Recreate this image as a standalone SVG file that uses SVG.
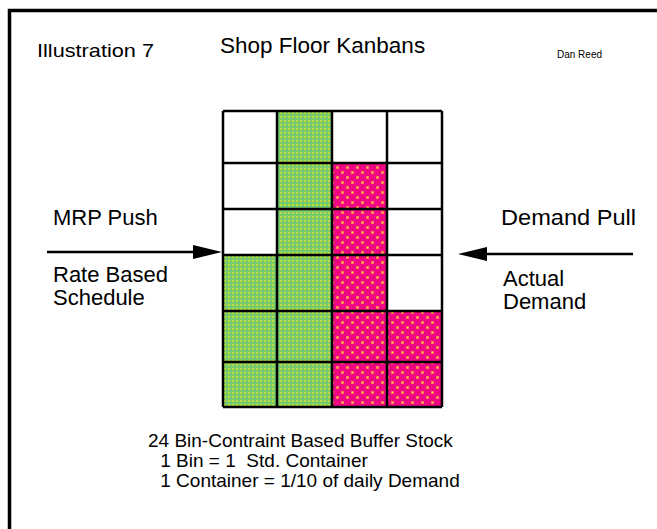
<svg xmlns="http://www.w3.org/2000/svg" width="657" height="529" viewBox="0 0 657 529">
<style>
text{font-family:"Liberation Sans",Arial,sans-serif;fill:#000}
.lbl{font-size:22px}
.note{font-size:19px}
.grid{stroke:#000;stroke-width:2.5;fill:none}
.conn{stroke:#000;stroke-width:2.5;fill:none}
.g{fill:url(#green)}
.p{fill:url(#pink)}
</style>
<defs>
<pattern id="green" patternUnits="userSpaceOnUse" width="4" height="4">
<rect width="4" height="4" fill="#7ccd62"/>
<rect x="0" y="0" width="2" height="2" fill="#bcd846"/>
<rect x="2" y="2" width="1" height="1" fill="#3cbcc4"/>
</pattern>
<pattern id="pink" patternUnits="userSpaceOnUse" width="10" height="10">
<rect width="10" height="10" fill="#ee0682"/>
<rect x="1" y="1" width="3" height="3" fill="#ff7a5a"/>
<rect x="2" y="2" width="1" height="1" fill="#ffd830"/>
<rect x="6" y="6" width="3" height="3" fill="#ff7a5a"/>
<rect x="7" y="7" width="1" height="1" fill="#ffd830"/>
</pattern>
<marker id="head" markerUnits="userSpaceOnUse" markerWidth="30" markerHeight="16" refX="17" refY="7" orient="auto">
<path d="M0,0 L29,7 L0,14 Z" fill="#000"/>
</marker>
</defs>
<rect x="9.5" y="10.5" width="700" height="600" fill="none" stroke="#000" stroke-width="3.5"/>
<g id="header">
<text x="37" y="57" style="font-size:19px" textLength="117" lengthAdjust="spacingAndGlyphs">Illustration 7</text>
<text x="220" y="53" style="font-size:22.5px">Shop Floor Kanbans</text>
<text x="557" y="58" style="font-size:10px">Dan Reed</text>
</g>
<g id="bin-grid">
<rect class="g" x="277" y="111" width="55" height="296"/>
<rect class="g" x="223" y="255" width="54" height="152"/>
<rect class="p" x="332" y="163" width="55" height="244"/>
<rect class="p" x="387" y="311" width="55" height="96"/>
<path class="grid" d="M223,111H442M223,163H442M223,209H442M223,255H442M223,311H442M223,362H442M223,407H442M223,111V407M277,111V407M332,111V407M387,111V407M442,111V407"/>
</g>
<g id="mrp-push">
<text class="lbl" x="53" y="225">MRP Push</text>
<text class="lbl" x="53" y="282">Rate Based</text>
<text class="lbl" x="53" y="305">Schedule</text>
</g>
<g id="demand-pull">
<text class="lbl" x="501" y="225" textLength="135" lengthAdjust="spacingAndGlyphs">Demand Pull</text>
<text class="lbl" x="503" y="286">Actual</text>
<text class="lbl" x="503" y="309">Demand</text>
</g>
<g id="connectors">
<line class="conn" x1="47" y1="252" x2="210" y2="252" marker-end="url(#head)"/>
<line class="conn" x1="633" y1="254" x2="470" y2="254" marker-end="url(#head)"/>
</g>
<g id="legend">
<text class="note" x="148" y="447">24 Bin-Contraint Based Buffer Stock</text>
<text class="note" x="155" y="467" xml:space="preserve"> 1 Bin = 1  Std. Container</text>
<text class="note" x="155" y="487" xml:space="preserve"> 1 Container = 1/10 of daily Demand</text>
</g>
</svg>
